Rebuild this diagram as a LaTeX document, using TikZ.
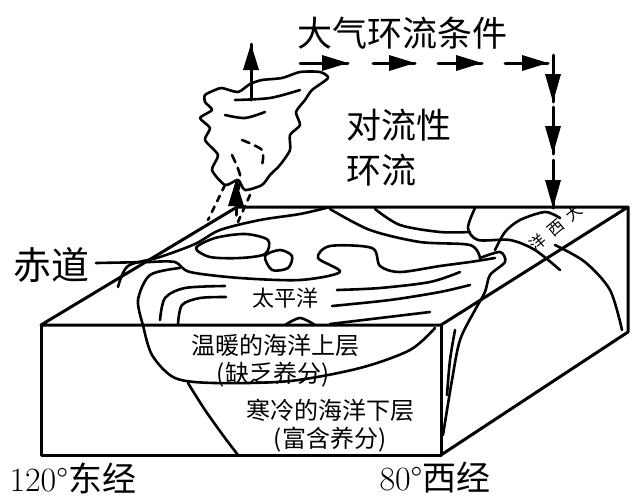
\documentclass[tikz,border=0pt]{standalone}
\usepackage{fontspec}
\newfontfamily\cjk{Noto Sans CJK SC}
\begin{document}
\begin{tikzpicture}[x=1pt,y=-1pt,line width=3pt,line join=round,line cap=round,
  lbl/.style={font=\cjk\fontsize{24}{26}\selectfont,inner sep=0pt},
  big/.style={font=\cjk\fontsize{35}{37}\selectfont,inner sep=0pt},
  sm/.style={font=\cjk\fontsize{16}{17}\selectfont,inner sep=0pt,rotate=40},
  thin/.style={line width=2.6pt}]
\useasboundingbox (0,0) rectangle (640,499);
% box
\coordinate (A) at (41,325); \coordinate (B) at (441,325);
\coordinate (C) at (628,207); \coordinate (D) at (237,207);
\coordinate (E) at (41,455); \coordinate (F) at (441,455); \coordinate (G) at (628,332);
\draw (A)--(B)--(C)--(D)--cycle;
\draw (A)--(E)--(F)--(B); \draw (F)--(G)--(C);
% coast lines on top face
\begin{scope}[thin]
\draw plot[smooth] coordinates {(118,287) (128,266) (160,257) (195,244) (220,230) (260,220) (300,214) (330,207)};
\draw plot[smooth cycle] coordinates {(196,248) (215,238) (245,234) (268,240) (265,254) (240,258) (210,257)};
\draw plot[smooth cycle] coordinates {(265,256) (280,250) (292,256) (288,268) (272,270)};
\draw plot[smooth] coordinates {(150,262) (175,262) (190,272) (240,278) (300,280) (340,272) (318,258) (330,246) (372,248) (380,266) (400,272) (440,266) (470,262) (495,258)};
\draw plot[smooth] coordinates {(143,325) (138,300) (150,275) (180,268)};
\draw plot[smooth] coordinates {(160,320) (165,298) (185,288) (225,286)};
\draw plot[smooth] coordinates {(178,324) (182,305) (200,298) (226,297)};
\draw plot[smooth] coordinates {(337,290) (380,288) (430,282) (460,272)};
\draw plot[smooth] coordinates {(332,306) (390,300) (440,292) (470,285)};
\draw plot[smooth] coordinates {(330,324) (380,318) (430,312)};
\draw plot[smooth] coordinates {(285,325) (300,318) (315,325)};
\draw plot[smooth] coordinates {(330,209) (370,230) (420,242) (470,245) (480,258)};
\draw plot[smooth] coordinates {(375,209) (400,225) (440,232) (470,232)};
\draw plot[smooth] coordinates {(475,208) (468,228) (478,240) (510,240) (535,250) (560,270)};
\draw plot[smooth] coordinates {(480,258) (500,252) (505,262) (490,275) (485,292) (475,310) (460,340) (452,380) (443,435)};
\draw plot[smooth] coordinates {(495,250) (505,232) (520,220) (545,212) (560,218)};
\draw plot[smooth] coordinates {(555,245) (585,262) (610,290) (622,330)};
\draw plot[smooth] coordinates {(455,330) (450,360) (447,395)};
% front face layers
\draw plot[smooth] coordinates {(143,325) (152,355) (175,378) (215,383) (290,381) (360,368) (410,350) (435,328)};
\draw plot[smooth] coordinates {(188,383) (205,410) (225,438) (238,455)};
% cloud
\draw plot[smooth cycle, tension=0.4] coordinates {(205,95) (215,90) (222,88) (238,92) (250,84) (262,80) (282,78) (300,72) (320,72) (328,78) (312,90) (305,100) (296,112) (300,125) (290,135) (290,150) (280,165) (270,175) (262,185) (245,190) (238,180) (225,185) (212,170) (218,155) (205,140) (210,128) (200,118) (212,110) (205,102)};
\draw plot[smooth] coordinates {(235,100) (270,98) (300,90)};
\draw plot[smooth] coordinates {(225,115) (245,118) (265,112)};
\draw[dash pattern=on 8pt off 6pt] plot[smooth] coordinates {(242,140) (262,150) (262,165)};
\draw[dash pattern=on 8pt off 6pt] plot[smooth] coordinates {(232,155) (240,175) (238,192)};
\draw[dash pattern=on 6pt off 6pt] (225,185)--(208,220);
\draw[dash pattern=on 6pt off 6pt] (250,195)--(238,222);
\end{scope}
% arrows (shaft + filled head)
\coordinate (u1) at (236,215); \coordinate (u2) at (236,180);
\draw (u1)--(u2); \fill (u2) -- ++(-8,26) -- ++(16,0) -- cycle;
\coordinate (u3) at (251,100); \coordinate (u4) at (251,44);
\draw (u3)--(u4); \fill (u4) -- ++(-8,26) -- ++(16,0) -- cycle;
\foreach \a/\b in {300/348,373/415,438/482,505/548}{
  \coordinate (h1) at (\a,63); \coordinate (h2) at (\b,63);
  \draw (h1)--(h2); \fill (h2) -- ++(-26,-8) -- ++(0,16) -- cycle;}
\foreach \a/\b in {55/102,107/154,160/208}{
  \coordinate (v1) at (553,\a); \coordinate (v2) at (553,\b);
  \draw (v1)--(v2); \fill (v2) -- ++(-8,-28) -- ++(16,0) -- cycle;}
% equator pointer
\coordinate (eq) at (150,262);
\node[big,anchor=west,font=\cjk\fontsize{38}{40}\selectfont] (chidao) at (12,265) {赤道};
\draw[thin] (chidao.east)++(5,-2) -- (eq);
% texts
\node[big] (cond) at (402,33) {大气环流条件};
\node[big,anchor=west] (dl1) at (345,125) {对流性};
\node[big,anchor=west] (dl2) at (345,170) {环流};
\node[font=\cjk\fontsize{22}{24}\selectfont,inner sep=0pt] (tpy) at (285,298) {太平洋};
\node[sm] (dx1) at (538,243) {洋};
\node[sm] (dx2) at (556,228) {西};
\node[sm] (dx3) at (574,213) {大};
\node[lbl] (w1) at (275,345) {温暖的海洋上层};
\node[lbl] (w2) at (273,375) {(缺乏养分)};
\node[lbl] (c1) at (330,410) {寒冷的海洋下层};
\node[lbl] (c2) at (330,440) {(富含养分)};
\node[inner sep=0pt,anchor=west] (lon1) at (8,478) {\fontsize{34}{36}\selectfont 120°\cjk 东经};
\node[inner sep=0pt,anchor=west] (lon2) at (378,478) {\fontsize{34}{36}\selectfont 80°\cjk 西经};
\end{tikzpicture}
\end{document}
